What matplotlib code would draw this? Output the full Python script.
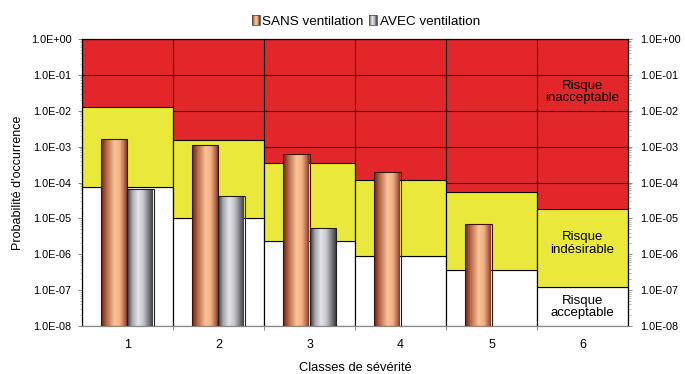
import numpy as np
import matplotlib
matplotlib.use("Agg")
import matplotlib.pyplot as plt
from matplotlib.colors import LinearSegmentedColormap
from matplotlib.legend_handler import HandlerBase
from matplotlib.patches import Rectangle, Patch
from matplotlib.ticker import FixedLocator, FuncFormatter, LogLocator, NullFormatter

plt.rcParams['font.family'] = ['Liberation Sans', 'DejaVu Sans']

# classes de sévérité
classes = [1, 2, 3, 4, 5, 6]
# probabilités
p_sans = [1.6e-3, 1.1e-3, 6.1e-4, 2.0e-4, 7.2e-6, np.nan]
p_avec = [6.5e-5, 4.2e-5, 5.3e-6, np.nan, np.nan, np.nan]
# limites des zones de risque
lim_inacceptable = [1.3e-2, 1.5e-3, 3.5e-4, 1.2e-4, 5.4e-5, 1.8e-5]
lim_acceptable = [7.6e-5, 1.0e-5, 2.3e-6, 9.0e-7, 3.7e-7, 1.26e-7]
y_min, y_max = 1e-8, 1e0

RED = '#e3262a'
YELLOW = '#ebe83c'

cmap_sans = LinearSegmentedColormap.from_list('sans', [
    (0.0, '#6e2818'), (0.2, '#b86a4c'), (0.5, '#fcc496'),
    (0.7, '#f2b084'), (0.88, '#b0654a'), (1.0, '#6a2414')])
cmap_avec = LinearSegmentedColormap.from_list('avec', [
    (0.0, '#404045'), (0.18, '#a8a8ae'), (0.4, '#e4e4ea'),
    (0.6, '#c6c6cc'), (0.85, '#6a6a70'), (1.0, '#303034')])


class GradientHandler(HandlerBase):
    def __init__(self, cmap):
        super().__init__()
        self.cmap = cmap

    def create_artists(self, legend, orig_handle, xdescent, ydescent,
                       width, height, fontsize, trans):
        n = 16
        arts = []
        for i in range(n):
            r = Rectangle((-xdescent + i * width / n, -ydescent), width / n, height,
                          facecolor=self.cmap((i + 0.5) / n), edgecolor='none',
                          transform=trans)
            arts.append(r)
        arts.append(Rectangle((-xdescent, -ydescent), width, height,
                              facecolor='none', edgecolor='#555555', lw=0.6,
                              transform=trans))
        return arts


fig = plt.figure(figsize=(6.85, 3.74), dpi=100)
ax = fig.add_axes([0.1197, 0.1283, 0.7971, 0.7674])
ax.set_yscale('log')
ax.set_facecolor(RED)

x = np.array(classes, dtype=float)
acc = np.array(lim_acceptable)
inacc = np.array(lim_inacceptable)

# zones
ax.bar(x, acc - y_min, bottom=y_min, width=1.0, color='white',
       edgecolor='black', lw=0.8, zorder=1)
ax.bar(x, inacc - acc, bottom=acc, width=1.0, color=YELLOW,
       edgecolor='black', lw=0.8, zorder=1)
for b in x[:-1] + 0.5:
    ax.axvline(b, color='black', lw=0.8, zorder=2)

ax.yaxis.grid(True, which='major', color='#3a0a0a', lw=0.8)
ax.set_axisbelow(True)

# barres avec dégradé
w = 0.29


def gradient_bars(xs, vals, cmap, edge):
    bars = ax.bar(xs, np.array(vals) - y_min, bottom=y_min, width=w,
                  facecolor='none', edgecolor=edge, lw=0.8, zorder=4)
    grad = np.linspace(0, 1, 256).reshape(1, -1)
    for bar, v in zip(bars, vals):
        if np.isnan(v):
            continue
        x0 = bar.get_x()
        im = ax.imshow(grad, cmap=cmap, aspect='auto', zorder=3,
                       extent=(x0, x0 + w, y_min, v), interpolation='bilinear')
        im.set_clip_path(bar)


gradient_bars(x - w / 2, p_sans, cmap_sans, '#3a1208')
gradient_bars(x + w / 2, p_avec, cmap_avec, '#202020')

ax.set_xlim(0.5, 6.5)
ax.set_ylim(y_min, y_max)

# axes
fmt = FuncFormatter(lambda v, _: f"{v:.1E}")


def style_log_axis(a, pad):
    a.yaxis.set_major_locator(LogLocator(base=10, numticks=20))
    a.yaxis.set_major_formatter(fmt)
    a.yaxis.set_minor_locator(LogLocator(base=10, subs=np.arange(2, 10), numticks=20))
    a.yaxis.set_minor_formatter(NullFormatter())
    a.tick_params(axis='y', which='major', labelsize=7.8, length=3, width=0.6,
                  color='#777777', pad=pad)
    a.tick_params(axis='y', which='minor', length=1.8, width=0.5, color='#999999')


style_log_axis(ax, 4.5)

ax.xaxis.set_major_locator(FixedLocator(x[:-1] + 0.5))
ax.xaxis.set_major_formatter(NullFormatter())
ax.xaxis.set_minor_locator(FixedLocator(x))
ax.xaxis.set_minor_formatter(FuncFormatter(lambda v, _: f"{int(v)}"))
ax.tick_params(axis='x', which='major', length=3, width=0.6, color='#777777')
ax.tick_params(axis='x', which='minor', length=0, labelsize=9, pad=9)

ax2 = ax.twinx()
ax2.set_yscale('log')
ax2.set_ylim(y_min, y_max)
style_log_axis(ax2, 5.5)

for a in (ax, ax2):
    for s in a.spines.values():
        s.set_linewidth(0.8)
        s.set_color('black')
    a.spines['bottom'].set_color('#888888')

ax.set_ylabel("Probabilité d'occurrence", fontsize=9, labelpad=5)
ax.set_xlabel("Classes de sévérité", fontsize=9.3, labelpad=8)

# zones text
ax.text(6, 3.3e-2, "Risque\ninacceptable", ha='center', va='center', fontsize=9.5,
        linespacing=1.05, zorder=5)
ax.text(6, 2.0e-6, "Risque\nindésirable", ha='center', va='center', fontsize=9.5,
        linespacing=1.05, zorder=5)
ax.text(6, 3.4e-8, "Risque\nacceptable", ha='center', va='center', fontsize=9.5,
        linespacing=1.05, zorder=5)

h_sans = Patch(label='SANS ventilation')
h_avec = Patch(label='AVEC ventilation')
ax.legend(handles=[h_sans, h_avec], loc='lower center', bbox_to_anchor=(0.52, 1.0),
          ncol=2, frameon=False, fontsize=9.7, handlelength=0.6, handleheight=0.75,
          handletextpad=0.2, columnspacing=0.4, borderaxespad=0.45,
          handler_map={h_sans: GradientHandler(cmap_sans),
                       h_avec: GradientHandler(cmap_avec)})

fig.savefig('out.png', dpi=100)
